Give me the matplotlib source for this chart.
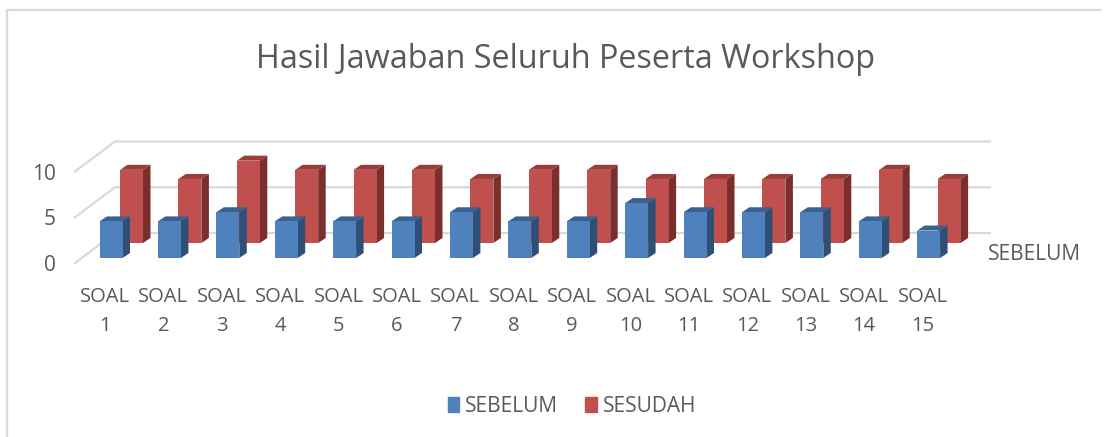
#!/usr/bin/env python3
"""Fake-3D clustered columns, drawn on a plain 2D axes with sheared side and top faces."""

import matplotlib

matplotlib.use("Agg")
import matplotlib.pyplot as plt
import numpy as np
from matplotlib.lines import Line2D
from matplotlib.patches import Patch, Polygon

W, H = 1110, 437

TITLE = "Hasil Jawaban Seluruh Peserta Workshop"
SOAL = [f"SOAL\n{i}" for i in range(1, 16)]
SEBELUM = [4, 4, 5, 4, 4, 4, 5, 4, 4, 6, 5, 5, 5, 4, 3]
SESUDAH = [8, 7, 9, 8, 8, 8, 7, 8, 8, 7, 7, 7, 7, 8, 7]
Y_TICKS = [0, 5, 10]

GREY = "#595959"
GRID = "#d9d9d9"
BLUE = ("#4f81bd", "#2f4f76", "#3a6291")
RED = ("#c0504d", "#7a2f2d", "#9a3d3a")

PX_X = 58.4  # pixels per category
PX_Y = 9.15  # pixels per unit

plt.rcParams["font.family"] = ["Open Sans", "DejaVu Sans"]


def px_w(v):
    return v / PX_X


def px_h(v):
    return v / PX_Y


def draw_columns(ax, values, shift_x, lift, colors, z):
    """Front face by ax.bar, side and top as sheared polygons."""
    w = px_w(23)
    dx, dy = px_w(7.5), px_h(5)
    front, side, top = colors
    xs = np.arange(len(values)) + px_w(shift_x)
    ax.bar(xs, values, width=w, bottom=px_h(lift), color=front, zorder=z + 1, clip_on=False)
    for x, v in zip(xs, values):
        lo, hi = px_h(lift), px_h(lift) + v
        r = x + w / 2
        l = x - w / 2
        ax.add_patch(Polygon([(r, lo), (r + dx, lo + dy), (r + dx, hi + dy), (r, hi)],
                             color=side, lw=0, zorder=z, clip_on=False))
        ax.add_patch(Polygon([(l, hi), (r, hi), (r + dx, hi + dy), (l + dx, hi + dy)],
                             color=top, lw=0, zorder=z, clip_on=False))


def main():
    fig = plt.figure(figsize=(W / 100, H / 100), dpi=100)
    left, right, y0, y10 = 75, 950, 263, 171.5
    ax = fig.add_axes([left / W, 1 - y0 / H, (right - left) / W, (y0 - y10) / H])
    ax.set_xlim((left - 111) / PX_X, (right - 111) / PX_X)
    ax.set_ylim(0, 10)
    for s in ax.spines.values():
        s.set_visible(False)
    ax.patch.set_alpha(0)

    # floor and back wall lines
    depth_x, depth_y = px_w(40), px_h(30)
    x0 = ax.get_xlim()[0]
    back_end = (990 - 111) / PX_X
    for t in Y_TICKS:
        ax.plot([x0, x0 + depth_x, back_end], [t, t + depth_y, t + depth_y],
                color=GRID, lw=1.6, zorder=1, clip_on=False)

    draw_columns(ax, SESUDAH, 20.5, 20, RED, 3)
    draw_columns(ax, SEBELUM, 0, 5, BLUE, 6)

    ax.set_xticks(np.arange(len(SOAL)) - px_w(6), SOAL, fontsize=14.5, color=GREY, linespacing=1.62)
    ax.set_yticks(Y_TICKS, [str(t) for t in Y_TICKS], fontsize=15, color=GREY)
    ax.tick_params(axis="x", length=0, pad=17)
    ax.tick_params(axis="y", length=0, pad=14)

    fig.text(1034 / W, 1 - 255 / H, "SEBELUM", fontsize=15, color=GREY, ha="center", va="center")
    fig.text(565 / W, 1 - 59 / H, TITLE, fontsize=23.3, color=GREY, ha="center", va="center")

    handles = [Patch(color=BLUE[0], label="SEBELUM"), Patch(color=RED[0], label="SESUDAH")]
    fig.legend(handles=handles, loc="center", bbox_to_anchor=(572 / W, 1 - 406 / H), ncol=2,
               frameon=False, fontsize=15, labelcolor=GREY, handlelength=0.55, handleheight=0.75,
               handletextpad=0.3, columnspacing=1.3)

    # chart frame, only left and top show in the crop
    fig.add_artist(Line2D([7 / W, 7 / W, 1100 / W], [0, 1 - 10 / H, 1 - 10 / H], color=GRID, lw=1.6))

    fig.savefig("out.png", dpi=100)
    plt.close(fig)


if __name__ == "__main__":
    main()
